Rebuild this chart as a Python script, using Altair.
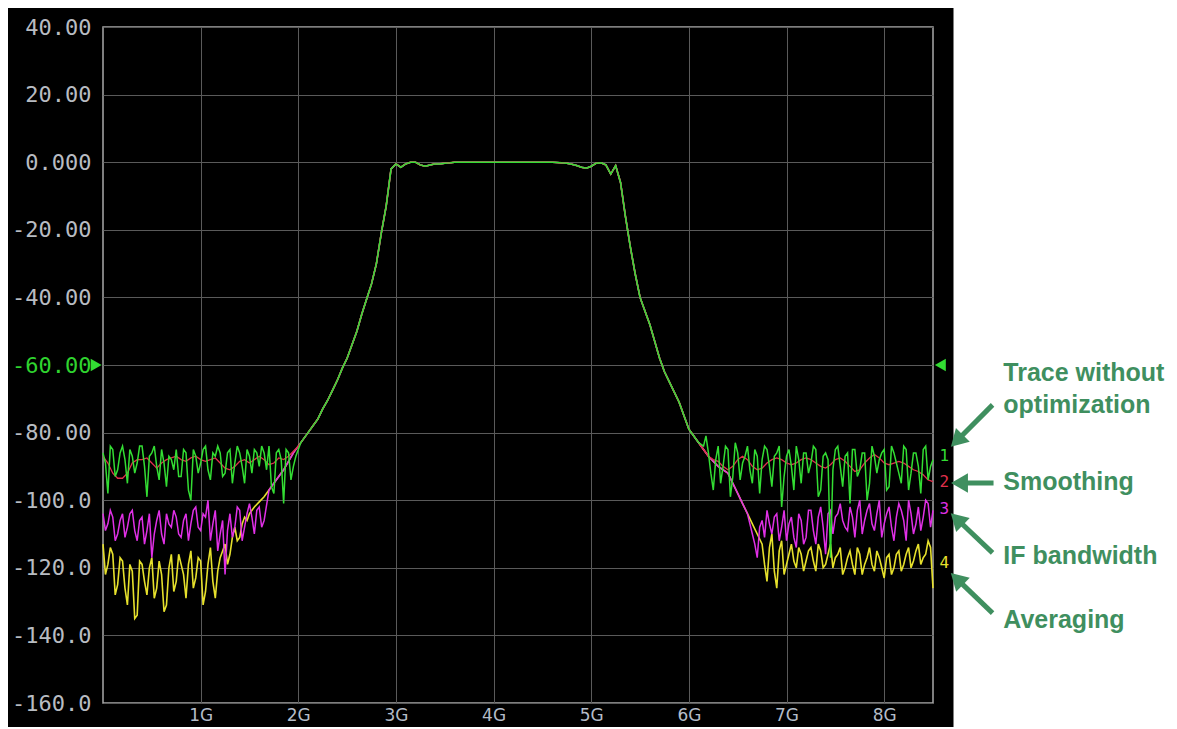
import altair as alt
import pandas as pd

# ---------------- data ----------------
# common filter response, f = 1.20 .. 6.80 GHz in 0.05 GHz steps (dB)
response = [
    -117, -114, -111, -109, -107, -105, -103, -102, -100.5, -99,
    -97, -95, -93, -91, -88.5, -86, -84, -82, -80, -78,
    -76, -73, -70.5, -67.5, -64.5, -61, -58, -54, -50, -45,
    -40.5, -36, -30, -21, -13, -2, -0.5,
    -1.5, -0.5, 0, 0, -0.8, -1.2, -0.8, -0.5, -0.5, -0.3,
    -0.2, 0, 0, 0, 0, 0, 0, 0, 0, 0,
    0, 0, 0, 0, 0, 0, 0, 0, 0, 0,
    0, 0, -0.1, -0.2, -0.3, -0.6, -1.0, -1.5, -1.8, -1.2,
    -0.3, -0.2, -0.8, -3.5, -1, -6, -16, -25, -33, -40,
    -44, -48, -53, -58, -62, -65, -68, -71, -75, -79,
    -81, -83, -85, -87, -88.5, -90, -91, -92, -95, -98,
    -101, -104, -107, -110, -113, -115,
]

# trace 1: without optimization (green), noise floor in 0.025 GHz steps
green_left = [  # 0.000 .. 2.050
    -86, -89, -98, -84, -85, -93, -91, -86, -84, -88,
    -95, -85, -87, -92, -89, -84, -84, -90, -99, -87,
    -86, -84, -90, -94, -85, -89, -96, -87, -88, -91,
    -85, -93, -93, -85, -86, -97, -100, -85, -87, -92,
    -89, -85, -84, -91, -94, -86, -87, -84, -86, -93,
    -92, -86, -85, -95, -89, -84, -86, -90, -95, -85,
    -87, -92, -85, -86, -90, -84, -86, -91, -84, -96,
    -98, -86, -85, -88, -101, -85, -86, -94, -90, -87,
    -85, -83, -82,
]
green_right = [  # 6.150 .. 8.500
    -84, -81, -86, -92, -97, -88, -84, -95, -90, -84,
    -85, -99, -93, -83, -86, -94, -89, -87, -84, -91,
    -95, -85, -87, -98, -88, -84, -85, -90, -96, -87,
    -86, -84, -102, -93, -87, -85, -90, -97, -84, -88,
    -95, -86, -86, -92, -89, -84, -85, -99, -97, -87,
    -86, -88, -117, -91, -85, -84, -90, -96, -87, -86,
    -101, -85, -85, -93, -91, -86, -86, -100, -95, -84,
    -87, -92, -88, -86, -85, -97, -96, -84, -86, -89,
    -92, -95, -84, -85, -97, -92, -86, -86, -90, -98,
    -85, -84, -94, -90, -88,
]
# trace 2: smoothing (red), 0.05 GHz steps
red_left = [  # 0.00 .. 1.95
    -87, -89, -92, -93.5, -93.5, -92, -89, -88, -88, -87.5,
    -89, -90.5, -89, -88, -87.5, -87, -88, -88.5, -87.5, -87,
    -88, -88.5, -88, -87.5, -89, -90.5, -91, -90, -88.5, -88,
    -89, -88, -87, -88, -89.5, -89, -87.5, -88, -87, -85.5,
]
red_right = [  # 6.25 .. 8.50
    -88, -88.5, -90, -91, -90, -88, -87, -88, -90, -91,
    -90.5, -89, -88, -87.5, -88, -89, -89.5, -89, -88, -87.5,
    -88, -89, -90, -90.5, -89.5, -88, -87.5, -88.5, -90, -91.5,
    -91, -89, -87.5, -86.5, -87.5, -89, -89.5, -89, -88.5, -89,
    -90, -91, -91.5, -92.5, -94, -94.5,
]
# trace 3: IF bandwidth (magenta), 0.025 GHz steps
mag_left = [  # 0.000 .. 1.650
    -104, -109, -107, -103, -105, -112, -110, -106, -104, -111,
    -108, -104, -103, -109, -112, -106, -105, -113, -109, -104,
    -117, -110, -106, -103, -110, -113, -104, -107, -108, -103,
    -105, -110, -111, -106, -104, -112, -107, -103, -102, -108,
    -109, -104, -105, -100, -112, -107, -103, -115, -110, -106,
    -122, -109, -104, -111, -108, -102, -103, -112, -108, -104,
    -101, -105, -110, -103, -102, -108, -106,
]
mag_right = [  # 6.600 .. 8.500
    -104, -107, -110, -113, -117, -108, -106, -111, -103, -107,
    -110, -105, -104, -112, -108, -103, -112, -107, -105, -111,
    -114, -104, -106, -113, -111, -103, -103, -109, -113, -105,
    -102, -108, -116, -104, -103, -110, -105, -104, -101, -106,
    -108, -109, -102, -105, -111, -103, -100, -110, -106, -103,
    -101, -107, -109, -104, -100, -111, -107, -104, -102, -108,
    -112, -105, -101, -103, -106, -112, -100, -104, -110, -107,
    -102, -109, -105, -100, -101, -108, -103,
]
# trace 4: averaging (yellow), 0.025 GHz steps
yel_left = [  # 0.000 .. 1.500
    -113, -122, -119, -114, -116, -128, -125, -117, -118, -126,
    -131, -119, -121, -135, -134, -118, -119, -124, -128, -120,
    -117, -129, -126, -118, -122, -133, -131, -120, -116, -127,
    -124, -116, -119, -122, -129, -119, -115, -126, -123, -117,
    -118, -131, -127, -119, -114, -124, -129, -121, -117, -115,
    -113, -119, -116, -111, -108, -112, -111, -107, -105, -106,
    -104,
]
yel_right = [  # 6.750 .. 8.500
    -113, -119, -124, -114, -110, -121, -126, -115, -112, -122,
    -119, -116, -113, -118, -120, -114, -116, -121, -118, -115,
    -114, -118, -121, -113, -115, -120, -119, -116, -113, -120,
    -117, -116, -114, -122, -120, -117, -115, -119, -122, -114,
    -116, -122, -119, -117, -114, -119, -121, -115, -117, -120,
    -123, -117, -116, -122, -120, -116, -115, -121, -119, -116,
    -114, -120, -118, -115, -113, -119, -117, -116, -112, -114,
    -126,
]

ref_level = [-60]
x_ticks = [1, 2, 3, 4, 5, 6, 7, 8]
y_ticks = [-160, -140, -120, -100, -80, -60, -40, -20, 0, 20, 40]

trace_ids = ["1", "2", "3", "4"]
trace_label_db = [-87, -94.6, -102.5, -118.5]
annot_text = ["Trace without", "optimization", "Smoothing", "IF bandwidth", "Averaging"]
annot_db = [-62.4, -71.8, -94.6, -116.5, -135.4]
arrow_tip_f = [8.68, 8.71, 8.68, 8.68]
arrow_tip_db = [-84.3, -94.9, -103.8, -121.5]
arrow_tail_f = [9.11, 9.12, 9.11, 9.11]
arrow_tail_db = [-71.8, -94.9, -115.6, -133.4]
arrow_angle = [225, 270, 314, 314]

# ---------------- assemble ----------------
R0 = 1.20


def grid(f0, f1, step):
    n = int(round((f1 - f0) / step))
    return [round(f0 + k * step, 3) for k in range(n + 1)]


def resp(f_from, f_to):
    a = int(round((f_from - R0) / 0.05))
    b = int(round((f_to - R0) / 0.05))
    return response[a:b + 1]


traces = [
    (grid(0, 2.05, 0.025) + grid(2.10, 6.10, 0.05) + grid(6.15, 8.5, 0.025),
     green_left + resp(2.10, 6.10) + green_right),
    (grid(0, 1.95, 0.05) + grid(2.00, 6.20, 0.05) + grid(6.25, 8.5, 0.05),
     red_left + resp(2.00, 6.20) + red_right),
    (grid(0, 1.65, 0.025) + grid(1.70, 6.55, 0.05) + grid(6.60, 8.5, 0.025),
     mag_left + resp(1.70, 6.55) + mag_right),
    (grid(0, 1.50, 0.025) + grid(1.55, 6.70, 0.05) + grid(6.75, 8.5, 0.025),
     yel_left + resp(1.55, 6.70) + yel_right),
]
for fs, vs in traces:
    assert len(fs) == len(vs), (len(fs), len(vs))

GREEN = "#33dd33"
RED = "#e0304c"
MAGENTA = "#e030e6"
YELLOW = "#e6e02c"
ANNOT = "#3f8f5f"
GRID = "#5a5a5a"

W, H = 830, 676
xs = alt.Scale(domain=[0, 8.5], nice=False, zero=False)
ys = alt.Scale(domain=[-160, 40], nice=False, zero=False)
x_axis = alt.Axis(values=x_ticks, labelExpr="datum.value + 'G'", grid=True, gridColor=GRID,
                  gridWidth=1, domain=False, ticks=False, labelColor="#b4bcc8",
                  labelFont="DejaVu Sans", labelFontSize=17, labelPadding=4, title=None,
                  labelFlush=False)
y_axis = alt.Axis(values=y_ticks,
                  labelExpr="datum.value == 0 ? '0.000' : (datum.value <= -100 ? datum.value + '.0' : datum.value + '.00')",
                  grid=True, gridColor=GRID, gridWidth=1, domain=False, ticks=False,
                  labelColor={"condition": {"test": "datum.value == -60", "value": "#2fd42f"},
                              "value": "#b8bcc2"},
                  labelFont="DejaVu Sans Mono", labelFontSize=22, labelPadding=12, title=None)

X = alt.X("f:Q", scale=xs, axis=x_axis)
Y = alt.Y("db:Q", scale=ys, axis=y_axis)


def line(fs, vals, color, width):
    df = pd.DataFrame({"f": fs, "db": vals})
    return alt.Chart(df).mark_line(color=color, strokeWidth=width, interpolate="linear").encode(x=X, y=Y)


l1 = line(*traces[0], GREEN, 1.5)
l2 = line(*traces[1], RED, 1.3)
l3 = line(*traces[2], MAGENTA, 1.5)
l4 = line(*traces[3], YELLOW, 1.6)

# white area on the right for the annotations
white = alt.Chart(pd.DataFrame({"f": [8.71], "f2": [12.0], "db": [70], "db2": [-200]})).mark_rect(
    color="white").encode(x=X, x2="f2:Q", y=Y, y2="db2:Q")

tri = alt.Chart(pd.DataFrame({"f": [-0.07, 8.575], "db": ref_level * 2,
                              "shape": ["triangle-right", "triangle-left"]})).mark_point(
    filled=True, size=160, color=GREEN, opacity=1).encode(
    x=X, y=Y, shape=alt.Shape("shape:N", scale=None))

tlab = alt.Chart(pd.DataFrame({"f": [8.615] * 4, "db": trace_label_db, "t": trace_ids,
                               "c": [GREEN, RED, MAGENTA, YELLOW]})).mark_text(
    font="DejaVu Sans Mono", fontSize=16, align="center", baseline="middle").encode(
    x=X, y=Y, text="t:N", color=alt.Color("c:N", scale=None))

ann = alt.Chart(pd.DataFrame({"f": [9.22] * 5, "db": annot_db, "t": annot_text})).mark_text(
    font="Liberation Sans", fontWeight="bold", fontSize=25, align="left", baseline="middle",
    color=ANNOT).encode(x=X, y=Y, text="t:N")

head_f = [tf + 0.15 * (af - tf) for tf, af in zip(arrow_tip_f, arrow_tail_f)]
head_db = [td + 0.15 * (ad - td) for td, ad in zip(arrow_tip_db, arrow_tail_db)]
arr_df = pd.DataFrame({"f": arrow_tail_f, "db": arrow_tail_db, "f2": head_f, "db2": head_db})
shafts = alt.Chart(arr_df).mark_rule(color=ANNOT, strokeWidth=5).encode(
    x=X, y=Y, x2="f2:Q", y2="db2:Q")
heads = alt.Chart(pd.DataFrame({"f": head_f, "db": head_db, "a": arrow_angle})).mark_point(
    shape="triangle-up", filled=True, size=380, color=ANNOT, opacity=1).encode(
    x=X, y=Y, angle=alt.Angle("a:Q", scale=None))

chart = alt.layer(l4, l3, l2, l1, tri, tlab, white, ann, shafts, heads).properties(
    width=W, height=H, background="black", autosize="none",
    padding={"left": 95, "top": 19, "right": 236, "bottom": 24},
).configure_view(stroke="#a8a8a8", strokeWidth=1.5)

chart.save("out.html", embed_options={"renderer": "svg", "actions": False})
